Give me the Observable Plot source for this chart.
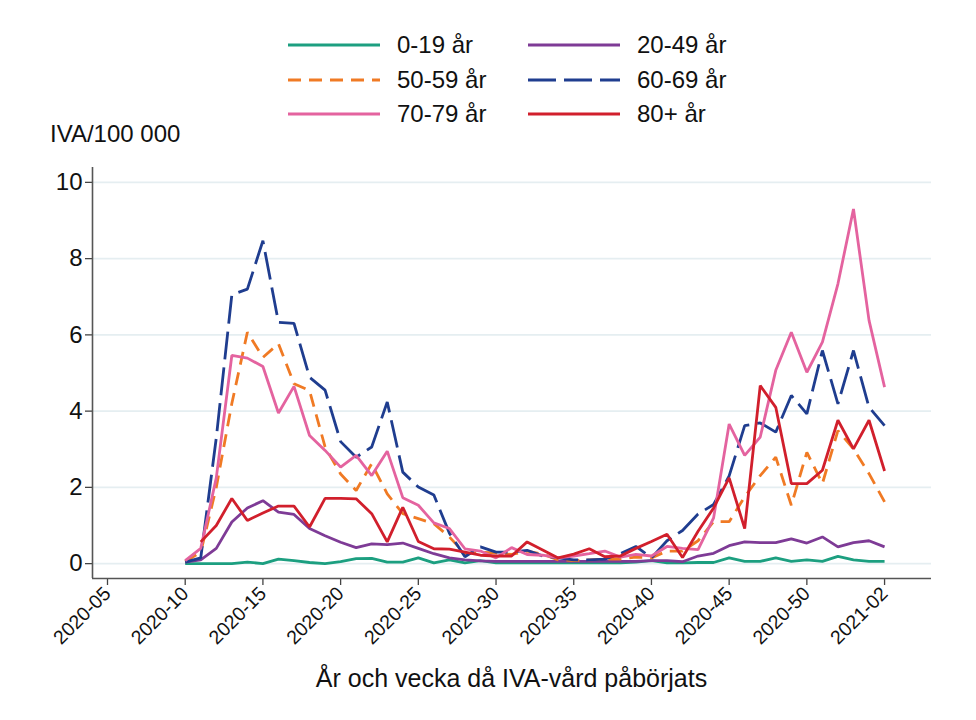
<!DOCTYPE html>
<html>
<head>
<meta charset="utf-8">
<script src="https://cdn.jsdelivr.net/npm/d3@7"></script>
<script src="https://cdn.jsdelivr.net/npm/@observablehq/plot@0.6"></script>
<style>
  html, body { margin: 0; padding: 0; background: #fff; }
  #wrap { position: relative; width: 976px; height: 720px; font-family: "Liberation Sans", Arial, sans-serif; color: #111; }
  #chart { position: absolute; left: 0; top: 0; }
  .leg { position: absolute; display: flex; align-items: center; font-size: 24px; line-height: 24px; }
  .leg svg { margin-right: 17px; }
  #ylab { position: absolute; left: 50px; top: 122px; font-size: 24px; line-height: 24px; }
  #xlab { position: absolute; left: 92px; width: 839px; top: 666px; text-align: center; font-size: 25px; line-height: 25px; }
</style>
</head>
<body>
<div id="wrap">
  <div id="chart"></div>
  <div id="legend"></div>
  <div id="ylab"></div>
  <div id="xlab"></div>
</div>
<script>
// ISO week index (2021-01 = 54, 2021-02 = 55)
const weeks = [10,11,12,13,14,15,16,17,18,19,20,21,22,23,24,25,26,27,28,29,30,31,32,33,34,35,36,37,38,39,40,41,42,43,44,45,46,47,48,49,50,51,52,53,54,55];

const age0_19  = [0,0,0,0,0.04,0,0.12,0.08,0.03,0,0.05,0.13,0.14,0.04,0.04,0.15,0.02,0.1,0.02,0.08,0.02,0.02,0.02,0.02,0.02,0.02,0.02,0.02,0.02,0.04,0.08,0.02,0.02,0.03,0.03,0.15,0.06,0.06,0.15,0.06,0.1,0.06,0.19,0.1,0.06,0.06];
const age20_49 = [0.04,0.1,0.4,1.09,1.46,1.65,1.35,1.29,0.92,0.73,0.56,0.42,0.52,0.5,0.54,0.4,0.26,0.15,0.1,0.07,0.06,0.06,0.06,0.06,0.06,0.06,0.06,0.06,0.06,0.06,0.08,0.08,0.05,0.2,0.27,0.47,0.57,0.55,0.55,0.65,0.54,0.7,0.44,0.55,0.6,0.44];
const age50_59 = [0.05,0.3,2.0,4.2,6.07,5.41,5.77,4.72,4.54,3.06,2.35,1.92,2.62,1.83,1.31,1.18,1.05,0.7,0.26,0.3,0.28,0.24,0.33,0.25,0.1,0.08,0.1,0.12,0.12,0.17,0.15,0.33,0.33,0.6,1.1,1.1,1.75,2.31,2.79,1.53,2.92,2.1,3.49,3.01,2.36,1.62];
const age60_69 = [0.04,0.15,3.3,7.05,7.2,8.47,6.33,6.3,4.89,4.55,3.2,2.79,3.06,4.24,2.4,2.01,1.8,0.8,0.18,0.44,0.3,0.3,0.35,0.2,0.15,0.1,0.1,0.12,0.26,0.45,0.15,0.6,0.87,1.3,1.55,2.3,3.62,3.69,3.45,4.41,3.93,5.59,4.19,5.59,4.1,3.62];
const age70_79 = [0.08,0.4,2.25,5.46,5.39,5.17,3.95,4.65,3.36,2.97,2.53,2.84,2.31,2.95,1.73,1.53,1.07,0.92,0.39,0.33,0.15,0.42,0.24,0.22,0.15,0.2,0.26,0.33,0.17,0.24,0.2,0.45,0.4,0.37,1.2,3.66,2.84,3.32,5.07,6.07,5.02,5.81,7.34,9.3,6.38,4.63];
const age80    = [null,0.57,1.0,1.71,1.13,1.33,1.51,1.51,0.96,1.71,1.71,1.7,1.31,0.57,1.48,0.58,0.39,0.38,0.3,0.22,0.2,0.2,0.57,0.36,0.15,0.25,0.39,0.18,0.2,0.4,0.58,0.77,0.16,0.85,1.46,2.25,0.92,4.67,4.1,2.1,2.1,2.45,3.76,3.01,3.76,2.43];

const seriesNames = ["0-19 år", "20-49 år", "50-59 år", "60-69 år", "70-79 år", "80+ år"];
const seriesValues = [age0_19, age20_49, age50_59, age60_69, age70_79, age80];
const seriesColors = ["#1c9f80", "#7e3b96", "#f07a24", "#1f3d8f", "#e4639f", "#d11f2c"];
const seriesDash = [null, null, "13,8", "28,8", null, null];

const yTicks = [0, 2, 4, 6, 8, 10];
const xTickWeeks = [5, 10, 15, 20, 25, 30, 35, 40, 45, 50, 55];
const xTickLabels = ["2020-05","2020-10","2020-15","2020-20","2020-25","2020-30","2020-35","2020-40","2020-45","2020-50","2021-02"];
const xTitle = "År och vecka då IVA-vård påbörjats";
const yTitle = "IVA/100 000";

const xDomain = [4.035, 58.02];
const yDomain = [-0.39, 10.39];

const tickLabelMap = new Map(xTickWeeks.map((w, i) => [w, xTickLabels[i]]));

const lineMarks = seriesNames.map((name, s) => {
  const data = weeks.map((w, i) => ({week: w, value: seriesValues[s][i], group: name}));
  return Plot.line(data, {
    x: "week", y: "value",
    defined: d => d.value != null,
    stroke: seriesColors[s],
    strokeWidth: 2.8,
    strokeDasharray: seriesDash[s] || undefined,
    strokeLinecap: "butt",
    strokeLinejoin: "miter"
  });
});

const chart = Plot.plot({
  width: 976,
  height: 720,
  marginTop: 167,
  marginBottom: 142,
  marginLeft: 92,
  marginRight: 45,
  style: {fontFamily: "'Liberation Sans', Arial, sans-serif", background: "white", color: "#111"},
  x: {domain: xDomain},
  y: {domain: yDomain},
  marks: [
    Plot.gridY(yTicks, {stroke: "#e5eef1", strokeOpacity: 1, strokeWidth: 1.6}),
    Plot.axisY(yTicks, {tickSize: 7, tickPadding: 3, fontSize: 24, label: null, stroke: "#444", strokeWidth: 1.3}),
    Plot.axisX(xTickWeeks, {
      tickSize: 7, tickPadding: 5, fontSize: 19.5, tickRotate: -45,
      tickFormat: d => tickLabelMap.get(d),
      label: null,
      stroke: "#444", strokeWidth: 1.3
    }),
    Plot.ruleX([xDomain[0]], {stroke: "#555", strokeWidth: 1.6}),
    Plot.ruleY([yDomain[0]], {stroke: "#555", strokeWidth: 1.6}),
    ...lineMarks
  ]
});
document.getElementById("chart").appendChild(chart);
document.getElementById("xlab").textContent = xTitle;
document.getElementById("ylab").textContent = yTitle;

// Legend (HTML)
const legend = document.getElementById("legend");
const legPos = [[288, 45], [528, 45], [288, 80], [528, 80], [288, 114], [528, 114]];
seriesNames.forEach((name, s) => {
  const [lx, ly] = legPos[s];
  const item = document.createElement("div");
  item.className = "leg";
  item.style.left = lx + "px";
  item.style.top = (ly - 13) + "px";
  item.style.height = "26px";
  const dash = seriesDash[s] ? `stroke-dasharray="${seriesDash[s]}"` : "";
  item.innerHTML = `<svg width="92" height="6"><line x1="0" y1="3" x2="92" y2="3" stroke="${seriesColors[s]}" stroke-width="2.8" ${dash}/></svg><span>${name}</span>`;
  legend.appendChild(item);
});
</script>
</body>
</html>
